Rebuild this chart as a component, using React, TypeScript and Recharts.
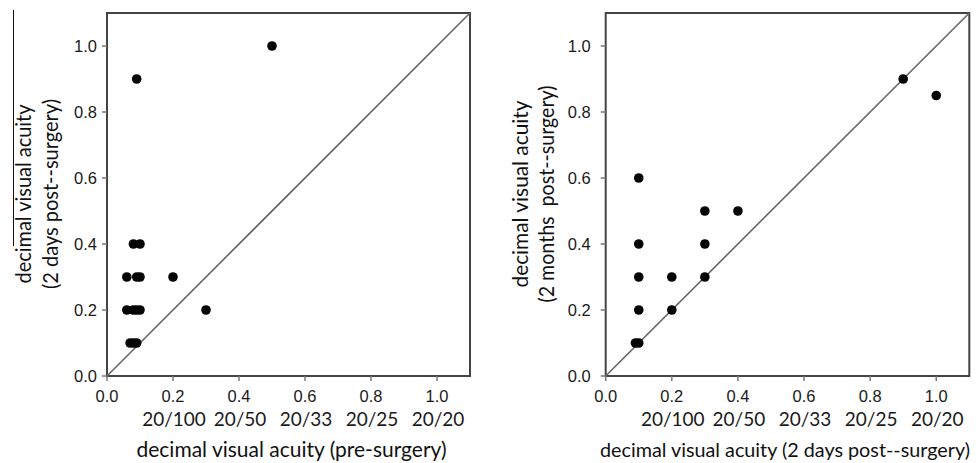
import React from "react";
import {
  ScatterChart,
  Scatter,
  XAxis,
  YAxis,
  ReferenceArea,
  ReferenceLine,
  Label,
} from "recharts";

// Pre-surgery vs. 2 days post-surgery (decimal visual acuity)
const preSurgery = [0.5, 0.09, 0.08, 0.1, 0.06, 0.09, 0.1, 0.2, 0.06, 0.08, 0.09, 0.1, 0.3, 0.07, 0.08, 0.09];
const twoDaysPost = [1.0, 0.9, 0.4, 0.4, 0.3, 0.3, 0.3, 0.3, 0.2, 0.2, 0.2, 0.2, 0.2, 0.1, 0.1, 0.1];

// 2 days post-surgery vs. 2 months post-surgery
const twoDaysPostB = [0.9, 1.0, 0.1, 0.3, 0.4, 0.1, 0.3, 0.1, 0.2, 0.3, 0.1, 0.2, 0.09, 0.1];
const twoMonthsPost = [0.9, 0.85, 0.6, 0.5, 0.5, 0.4, 0.4, 0.3, 0.3, 0.3, 0.2, 0.2, 0.1, 0.1];

const axisTicks = [0, 0.2, 0.4, 0.6, 0.8, 1.0];
const snellenLabels = ["", "20/100", "20/50", "20/33", "20/25", "20/20"];
const axisMax = 1.1;

const NUM_FONT = "'Liberation Sans', Arial, sans-serif";
const TITLE_FONT = "Lato, 'Open Sans', sans-serif";

const XTick = (props: any) => {
  const { x, y, payload, index } = props;
  const i = axisTicks.indexOf(payload.value);
  return (
    <g>
      <text x={x} y={y} dy={21} textAnchor="middle" fontFamily={NUM_FONT} fontSize={16.5} fill="#1a1a1a">
        {Number(payload.value).toFixed(1)}
      </text>
      <text x={x + 1} y={y} dy={45} textAnchor="middle" fontFamily={TITLE_FONT} fontSize={19} fill="#1a1a1a">
        {snellenLabels[i >= 0 ? i : index]}
      </text>
    </g>
  );
};

const YTick = (props: any) => {
  const { x, y, payload } = props;
  return (
    <text x={x} y={y} dy={5.8} textAnchor="end" fontFamily={NUM_FONT} fontSize={16.5} fill="#1a1a1a">
      {Number(payload.value).toFixed(1)}
    </text>
  );
};

const Dot = (props: any) => {
  const { cx, cy } = props;
  return <circle cx={cx} cy={cy} r={4.8} fill="#050505" />;
};

type PanelProps = {
  xs: number[];
  ys: number[];
  width: number;
  left: number;
  yAxisWidth: number;
  rightMargin: number;
  yTickMargin: number;
  xTitle: string;
  xTitleShift: number;
  xTitleLength: number;
  xTitleSize: number;
  yTitleLines: string[];
  yTitleXs: number[];
  yTitleLengths: number[];
};

function Panel({
  xs,
  ys,
  width,
  left,
  yAxisWidth,
  rightMargin,
  yTickMargin,
  xTitle,
  xTitleShift,
  xTitleLength,
  xTitleSize,
  yTitleLines,
  yTitleXs,
  yTitleLengths,
}: PanelProps) {
  const data = xs.map((x, i) => ({ x, y: ys[i] }));
  const height = 463;
  return (
    <div style={{ position: "absolute", left, top: 0 }}>
      <ScatterChart width={width} height={height} margin={{ top: 13, right: rightMargin, bottom: 0, left: 0 }}>
        <XAxis
          type="number"
          dataKey="x"
          domain={[0, axisMax]}
          ticks={axisTicks}
          allowDataOverflow
          axisLine={false}
          tickLine={{ stroke: "#777", strokeWidth: 1.5 }}
          tickSize={5}
          tickMargin={0}
          tick={<XTick />}
          height={87}
          interval={0}
        >
          <Label
            content={(p: any) => {
              const vb = p.viewBox;
              return (
                <text
                  x={vb.x + vb.width / 2 + xTitleShift}
                  y={vb.y + 81}
                  textAnchor="middle"
                  fontFamily={TITLE_FONT}
                  fontSize={xTitleSize}
                  fill="#111"
                  textLength={xTitleLength}
                  lengthAdjust="spacingAndGlyphs"
                >
                  {xTitle}
                </text>
              );
            }}
          />
        </XAxis>
        <YAxis
          type="number"
          dataKey="y"
          domain={[0, axisMax]}
          ticks={axisTicks}
          allowDataOverflow
          axisLine={false}
          tickLine={{ stroke: "#777", strokeWidth: 1.5 }}
          tickSize={5}
          tickMargin={yTickMargin}
          tick={<YTick />}
          width={yAxisWidth}
          interval={0}
        >
          <Label
            content={(p: any) => {
              const vb = p.viewBox;
              const cy = vb.y + 181;
              return (
                <g>
                  {yTitleLines.map((line, i) => (
                    <text
                      key={i}
                      x={yTitleXs[i]}
                      y={cy}
                      transform={`rotate(-90 ${yTitleXs[i]} ${cy})`}
                      textAnchor="middle"
                      dominantBaseline="central"
                      fontFamily={TITLE_FONT}
                      fontSize={21}
                      fill="#111"
                      textLength={yTitleLengths[i]}
                      lengthAdjust="spacingAndGlyphs"
                      style={{ whiteSpace: "pre" }}
                    >
                      {line}
                    </text>
                  ))}
                </g>
              );
            }}
          />
        </YAxis>
        <ReferenceLine
          segment={[
            { x: 0, y: 0 },
            { x: axisMax, y: axisMax },
          ]}
          stroke="#666"
          strokeWidth={1.6}
          ifOverflow="visible"
        />
        <ReferenceArea x1={0} x2={axisMax} y1={0} y2={axisMax} fill="none" stroke="#444" strokeWidth={2} ifOverflow="visible" />
        <Scatter data={data} shape={<Dot />} isAnimationActive={false} />
      </ScatterChart>
    </div>
  );
}

export default function App() {
  return (
    <div style={{ position: "absolute", left: 0, top: 0, width: 978, height: 463, background: "#fff", overflow: "hidden" }}>
      <div style={{ position: "absolute", left: 13, top: 10, width: 1, height: 236, background: "#111" }} />
      <Panel
        xs={preSurgery}
        ys={twoDaysPost}
        width={490}
        left={0}
        yAxisWidth={107}
        rightMargin={20}
        yTickMargin={5}
        xTitle="decimal visual acuity (pre-surgery)"
        xTitleShift={3}
        xTitleLength={310}
        xTitleSize={21}
        yTitleLines={["decimal visual acuity", "(2 days post--surgery)"]}
        yTitleXs={[22, 49]}
        yTitleLengths={[179, 190]}
      />
      <Panel
        xs={twoDaysPostB}
        ys={twoMonthsPost}
        width={488}
        left={490}
        yAxisWidth={115.7}
        rightMargin={8.7}
        yTickMargin={10}
        xTitle="decimal visual acuity (2 days post--surgery)"
        xTitleShift={-2.5}
        xTitleLength={370}
        xTitleSize={20}
        yTitleLines={["decimal visual acuity", "(2 months  post--surgery)"]}
        yTitleXs={[29, 55]}
        yTitleLengths={[187, 217]}
      />
    </div>
  );
}
